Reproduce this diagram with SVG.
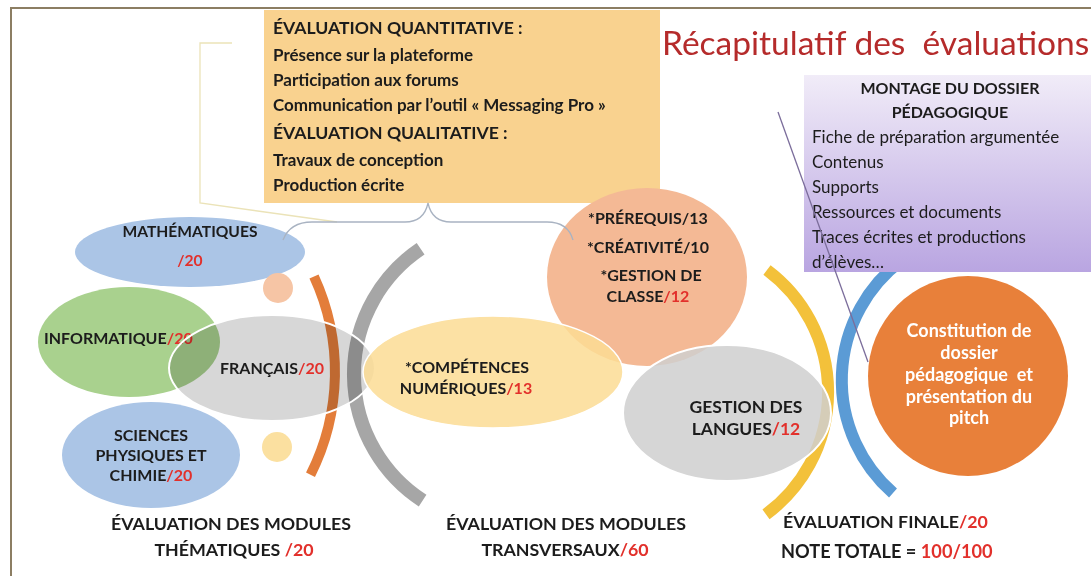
<svg xmlns="http://www.w3.org/2000/svg" width="1091" height="576" viewBox="0 0 1091 576">
<defs>
<linearGradient id="purpleGrad" x1="0" y1="0" x2="0" y2="1">
<stop offset="0" stop-color="#f1ecf8"/>
<stop offset="1" stop-color="#b9a5e1"/>
</linearGradient>
<style>
.t{font-family:Lato,"Open Sans","Liberation Sans",sans-serif;fill:#1c1c1c;}
.b{font-weight:bold;}
.m{text-anchor:middle;}
.r{fill:#e2302b;}
.w{fill:#ffffff;}
.arc{fill:none;stroke-linecap:butt;}
.thin{fill:none;stroke-width:1.3;}
.mul{mix-blend-mode:multiply;}
</style>
</defs>
<rect x="0" y="0" width="1091" height="576" fill="#ffffff"/>
<g id="frame">
<path d="M11 576 V8 H1091" fill="none" stroke="#8c7e63" stroke-width="2"/>
</g>
<g id="connectors-back">
<polyline points="232,43 200,43 200,203 337,222" class="thin" stroke="#ebe3b8" stroke-width="1.5"/>
</g>
<g id="box-evaluation">
<rect x="264" y="10" width="396" height="193" fill="#f9d28f"/>
<text class="t b" x="273" y="34" font-size="17.6">ÉVALUATION QUANTITATIVE :</text>
<text class="t b" x="273" y="61" font-size="17">Présence sur la plateforme</text>
<text class="t b" x="273" y="86" font-size="17">Participation aux forums</text>
<text class="t b" x="273" y="111" font-size="17">Communication par l’outil « Messaging Pro »</text>
<text class="t b" x="273" y="139" font-size="17.6">ÉVALUATION QUALITATIVE :</text>
<text class="t b" x="273" y="166" font-size="17">Travaux de conception</text>
<text class="t b" x="273" y="191" font-size="17">Production écrite</text>
</g>
<g id="title">
<text class="t" x="662" y="55" font-size="33.5" style="fill:#b52b2b" xml:space="preserve">Récapitulatif des  évaluations</text>
</g>
<g id="node-maths">
<ellipse cx="190" cy="252" rx="115" ry="35" fill="#abc5e6"/>
<text class="t b m" x="190" y="237" font-size="15.6">MATHÉMATIQUES</text>
<text class="t b m r" x="190" y="266" font-size="15.6">/20</text>
</g>
<g id="node-informatique">
<ellipse cx="129" cy="342" rx="91" ry="55" fill="#a9d18e"/>
<text class="t b" x="44" y="344" font-size="16">INFORMATIQUE<tspan class="r">/20</tspan></text>
</g>
<g id="node-sciences">
<ellipse cx="151" cy="455" rx="89" ry="53" fill="#abc5e6"/>
<text class="t b m" x="151" y="441" font-size="16">SCIENCES</text>
<text class="t b m" x="151" y="461" font-size="16">PHYSIQUES ET</text>
<text class="t b m" x="151" y="481" font-size="16">CHIMIE<tspan class="r">/20</tspan></text>
</g>
<g id="dot-peach">
<circle cx="278" cy="288" r="15" fill="#f6c5a5"/>
</g>
<g id="dot-yellow">
<circle cx="277" cy="447" r="15" fill="#fbe0a0"/>
</g>
<g id="arc-orange">
<path class="arc" d="M314 276.5 A228 228 0 0 1 310.5 474.7" stroke="#e37d3a" stroke-width="10"/>
</g>
<g id="arc-grey">
<path class="arc" d="M420.6 248.8 A151 151 0 0 0 422.6 500.6" stroke="#a6a6a6" stroke-width="14"/>
</g>
<g id="node-francais">
<ellipse class="mul" cx="272" cy="368" rx="103" ry="53" fill="#d7d7d7"/>
<ellipse cx="272" cy="368" rx="103" ry="53" fill="none" stroke="#ffffff" stroke-width="2"/>
<text class="t b m" x="272" y="374" font-size="16">FRANÇAIS<tspan class="r">/20</tspan></text>
</g>
<g id="node-prerequis">
<ellipse cx="647" cy="277" rx="100" ry="89" fill="#f4b995"/>
<text class="t b m" x="648" y="224" font-size="16">*PRÉREQUIS/13</text>
<text class="t b m" x="648" y="253" font-size="16">*CRÉATIVITÉ/10</text>
<text class="t b m" x="651" y="281" font-size="16">*GESTION DE</text>
<text class="t b m" x="648" y="302" font-size="16">CLASSE<tspan class="r">/12</tspan></text>
</g>
<g id="node-competences">
<ellipse cx="493" cy="372" rx="130" ry="56" fill="#fbdc94" fill-opacity="0.85" stroke="#ffffff" stroke-width="1.5"/>
<text class="t b m" x="467" y="373" font-size="16">*COMPÉTENCES</text>
<text class="t b m" x="466" y="394" font-size="16">NUMÉRIQUES<tspan class="r">/13</tspan></text>
</g>
<g id="arc-yellow">
<path class="arc" d="M767 270 A152 152 0 0 1 766 514.4" stroke="#f3c13a" stroke-width="12"/>
</g>
<g id="node-langues">
<ellipse cx="727" cy="413" rx="104" ry="68" fill="#cfcfcf" fill-opacity="0.85" stroke="#ffffff" stroke-width="2"/>
<text class="t b m" x="746" y="413" font-size="17.5">GESTION DES</text>
<text class="t b m" x="746" y="435" font-size="17.5">LANGUES<tspan class="r">/12</tspan></text>
</g>
<g id="arc-blue">
<path class="arc" d="M901.7 260.2 A150 150 0 0 0 893 493" stroke="#5b9bd5" stroke-width="12"/>
</g>
<g id="node-constitution">
<circle cx="968" cy="376" r="100" fill="#e8803a"/>
<text class="t b m w" x="969" y="337" font-size="18">Constitution de</text>
<text class="t b m w" x="969" y="359" font-size="18">dossier</text>
<text class="t b m w" x="969" y="381" font-size="18" xml:space="preserve">pédagogique  et</text>
<text class="t b m w" x="969" y="403" font-size="18">présentation du</text>
<text class="t b m w" x="969" y="424" font-size="18">pitch</text>
</g>
<g id="box-montage">
<rect x="804" y="75" width="287" height="197" fill="url(#purpleGrad)"/>
<text class="t b m" x="950" y="94" font-size="16">MONTAGE DU DOSSIER</text>
<text class="t b m" x="950" y="118" font-size="16">PÉDAGOGIQUE</text>
<text class="t" x="812" y="143" font-size="17">Fiche de préparation argumentée</text>
<text class="t" x="812" y="168" font-size="17">Contenus</text>
<text class="t" x="812" y="193" font-size="17">Supports</text>
<text class="t" x="812" y="218" font-size="17">Ressources et documents</text>
<text class="t" x="812" y="243" font-size="17">Traces écrites et productions</text>
<text class="t" x="812" y="268" font-size="17">d’élèves…</text>
</g>
<g id="connectors">
<path d="M283 240 Q290 222 312 222 H405 Q424 222 428 203 Q432 222 451 222 H547 Q568 222 573 240" class="thin" stroke="#a9b3c2"/>
<line x1="778" y1="112" x2="868" y2="362" class="thin" stroke="#7b6d9b" stroke-width="1.2"/>
</g>
<g id="labels">
<text class="t b m" x="231" y="530" font-size="17.8">ÉVALUATION DES MODULES</text>
<text class="t b m" x="234" y="556" font-size="17.8">THÉMATIQUES <tspan class="r">/20</tspan></text>
<text class="t b m" x="566" y="530" font-size="17.8">ÉVALUATION DES MODULES</text>
<text class="t b m" x="565" y="556" font-size="17.8">TRANSVERSAUX<tspan class="r">/60</tspan></text>
<text class="t b" x="783" y="528" font-size="17.8">ÉVALUATION FINALE<tspan class="r">/20</tspan></text>
<text class="t b" x="781" y="558" font-size="18.2">NOTE TOTALE = <tspan class="r">100/100</tspan></text>
</g>
</svg>
